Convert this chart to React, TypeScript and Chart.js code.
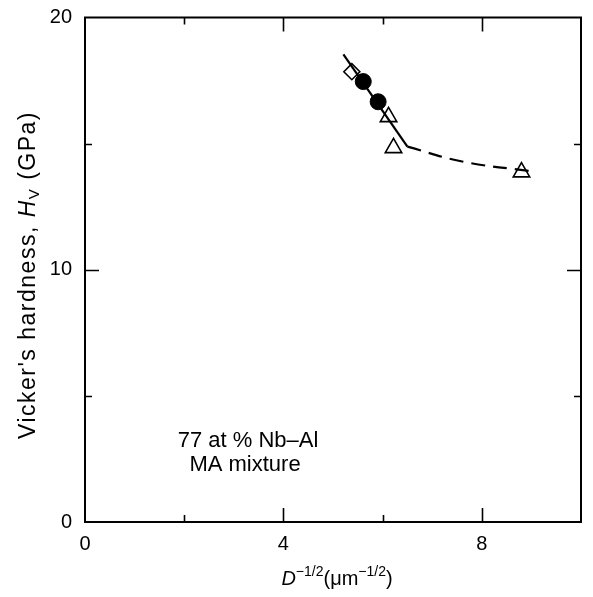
import React, { useEffect, useRef } from 'react';
import { Chart, registerables } from 'chart.js';

Chart.register(...registerables);

// ---- data ----
const xTickLabels = [0, 4, 8];
const xAllTicks = [2, 4, 6, 8];
const xMajorTicks = [4, 8];
const yTickLabels = [0, 10, 20];
const yAllTicks = [5, 10, 15];
const yMajorTicks = [10];

const solidFitX = [5.21, 6.5];
const solidFitY = [18.54, 14.88];
const dashedFitX = [6.5, 7.63, 9.07];
const dashedFitY = [14.88, 14.28, 13.89];
const diamondX = [5.38];
const diamondY = [17.85];
const circleX = [5.61, 5.91];
const circleY = [17.46, 16.66];
const triangleX = [6.12, 6.22, 8.8];
const triangleY = [16.06, 14.83, 13.87];

const annotationLines = ['77 at % Nb\u2013Al', 'MA mixture'];

const FONT = "'Liberation Sans', Arial, sans-serif";

const pts = (xs: number[], ys: number[]) => xs.map((x, i) => ({ x, y: ys[i] }));

type Seg = { t: string; style?: string; size: number; dy?: number };

function drawSegs(ctx: any, segs: Seg[], cx: number, baseY: number, spacing = 0) {
  ctx.letterSpacing = `${spacing}px`;
  let total = 0;
  const widths = segs.map((s) => {
    ctx.font = `${s.style || ''} ${s.size}px ${FONT}`;
    const w = ctx.measureText(s.t).width;
    total += w;
    return w;
  });
  let x = cx - total / 2;
  ctx.textAlign = 'left';
  ctx.textBaseline = 'alphabetic';
  segs.forEach((s, i) => {
    ctx.font = `${s.style || ''} ${s.size}px ${FONT}`;
    ctx.fillText(s.t, x, baseY + (s.dy || 0));
    x += widths[i];
  });
  ctx.letterSpacing = '0px';
}

const framePlugin = {
  id: 'frame',
  afterDraw(chart: any) {
    const { ctx, chartArea: a, scales } = chart;
    const xs = scales.x;
    const ys = scales.y;
    ctx.save();
    ctx.strokeStyle = '#000';
    ctx.fillStyle = '#000';
    ctx.lineWidth = 2;
    ctx.strokeRect(a.left, a.top, a.right - a.left, a.bottom - a.top);
    ctx.lineWidth = 1.6;
    ctx.beginPath();
    xAllTicks.forEach((v) => {
      const px = Math.round(xs.getPixelForValue(v)) + 0.5;
      const len = xMajorTicks.includes(v) ? 14 : 7;
      ctx.moveTo(px, a.bottom);
      ctx.lineTo(px, a.bottom - len);
      ctx.moveTo(px, a.top);
      ctx.lineTo(px, a.top + len);
    });
    yAllTicks.forEach((v) => {
      const py = Math.round(ys.getPixelForValue(v)) + 0.5;
      const len = yMajorTicks.includes(v) ? 14 : 7;
      ctx.moveTo(a.left, py);
      ctx.lineTo(a.left + len, py);
      ctx.moveTo(a.right, py);
      ctx.lineTo(a.right - len, py);
    });
    ctx.stroke();

    // x axis title
    drawSegs(
      ctx,
      [
        { t: 'D', style: 'italic', size: 20 },
        { t: '\u22121/2', size: 14, dy: -9 },
        { t: '(\u03bcm', size: 20 },
        { t: '\u22121/2', size: 14, dy: -9 },
        { t: ')', size: 20 },
      ],
      337,
      585
    );

    // y axis title
    ctx.save();
    ctx.translate(27, 275);
    ctx.rotate(-Math.PI / 2);
    drawSegs(
      ctx,
      [
        { t: "Vicker's hardness, ", size: 23 },
        { t: 'H', style: 'italic', size: 23 },
        { t: 'V', size: 15, dy: 4 },
        { t: ' (GPa)', size: 23 },
      ],
      0,
      8,
      1.5
    );
    ctx.restore();

    // annotation
    ctx.font = `22px ${FONT}`;
    ctx.textAlign = 'center';
    ctx.textBaseline = 'alphabetic';
    ctx.fillText(annotationLines[0], 248, 447);
    ctx.fillText(annotationLines[1], 245, 471);
    ctx.restore();
  },
};

export default function App() {
  const ref = useRef<HTMLCanvasElement | null>(null);
  useEffect(() => {
    if (!ref.current) return;
    const chart = new Chart(ref.current, {
      type: 'scatter',
      data: {
        datasets: [
          {
            data: pts(solidFitX, solidFitY),
            showLine: true,
            borderColor: '#000',
            borderWidth: 2.2,
            pointRadius: 0,
          },
          {
            data: pts(dashedFitX, dashedFitY),
            showLine: true,
            borderColor: '#000',
            borderWidth: 2.2,
            borderDash: [14, 8],
            tension: 0.4,
            pointRadius: 0,
          },
          {
            data: pts(circleX, circleY),
            pointStyle: 'circle',
            pointRadius: 8,
            backgroundColor: '#000',
            borderColor: '#000',
            borderWidth: 1,
          },
          {
            data: pts(diamondX, diamondY),
            pointStyle: 'rectRot',
            pointRadius: 8,
            backgroundColor: '#fff',
            borderColor: '#000',
            borderWidth: 1.6,
          },
          {
            data: pts(triangleX, triangleY),
            pointStyle: 'triangle',
            pointRadius: 9.5,
            backgroundColor: 'rgba(255,255,255,0)',
            borderColor: '#000',
            borderWidth: 1.6,
          },
        ],
      },
      options: {
        animation: false,
        responsive: true,
        maintainAspectRatio: false,
        layout: { padding: { top: 17.5, right: 12, left: 0, bottom: 0 } },
        plugins: { legend: { display: false }, tooltip: { enabled: false } },
        scales: {
          x: {
            type: 'linear',
            min: 0,
            max: 10,
            grid: { display: false, drawTicks: false },
            border: { display: false },
            afterBuildTicks: (s: any) => {
              s.ticks = xTickLabels.map((v) => ({ value: v }));
            },
            afterFit: (s: any) => {
              s.height = 75;
              s.paddingLeft = 0;
              s.paddingRight = 0;
            },
            ticks: {
              color: '#000',
              padding: 10,
              maxRotation: 0,
              font: { family: FONT, size: 20 },
            },
          },
          y: {
            type: 'linear',
            min: 0,
            max: 20,
            grid: { display: false, drawTicks: false },
            border: { display: false },
            afterBuildTicks: (s: any) => {
              s.ticks = yTickLabels.map((v) => ({ value: v }));
            },
            afterFit: (s: any) => {
              s.width = 85;
              s.paddingTop = 0;
              s.paddingBottom = 0;
            },
            ticks: {
              color: '#000',
              padding: 13,
              font: { family: FONT, size: 20 },
            },
          },
        },
      },
      plugins: [framePlugin],
    });
    return () => chart.destroy();
  }, []);
  return (
    <div style={{ position: 'absolute', left: 0, top: 0, width: 593, height: 597, background: '#fff' }}>
      <canvas ref={ref} />
    </div>
  );
}
